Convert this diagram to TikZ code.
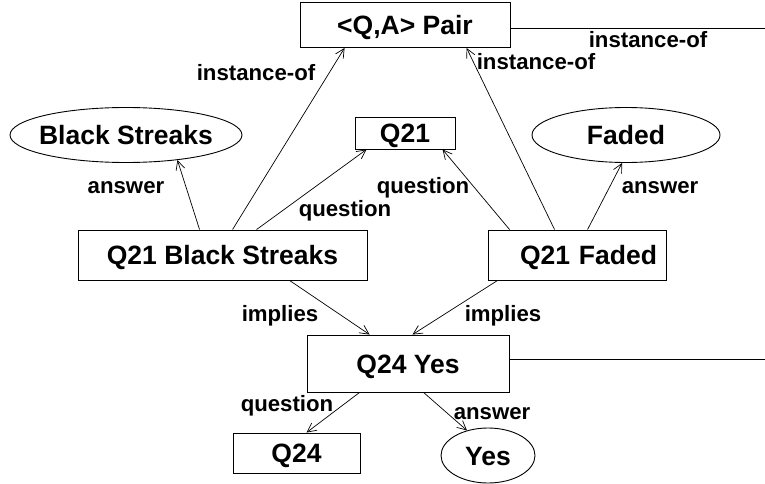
\documentclass[tikz,border=0pt]{standalone}
\usepackage{fontspec}
\setmainfont{Liberation Sans}
\usetikzlibrary{arrows.meta,shapes.geometric}
\begin{document}
\begin{tikzpicture}[x=1pt,y=-1pt,
  nodefont/.style={font=\fontsize{26.5}{29}\selectfont\bfseries,
    text height=19pt,text depth=0pt},
  boxnode/.style={draw,rectangle,line width=0.9pt,inner sep=0pt,nodefont},
  ellnode/.style={draw,ellipse,line width=0.9pt,inner sep=0pt,
    label={[nodefont,inner sep=0pt]center:#1}},
  lbl/.style={inner sep=0pt,font=\fontsize{22.2}{25}\selectfont\bfseries,
    text height=16pt,text depth=0pt},
  rel/.style={line width=0.7pt,-{Straight Barb[length=9pt,width=9pt,line width=0.7pt]}},
  plain/.style={line width=0.7pt}]
\useasboundingbox (0,0) rectangle (765,484);

% concept nodes
\node[boxnode,minimum width=210,minimum height=45] (pair) at (405,25) {<Q,A> Pair};
\node[ellnode=Black Streaks,minimum width=232,minimum height=55] (bsEll) at (126,135) {};
\node[boxnode,minimum width=100,minimum height=32] (q21) at (405,133) {Q21};
\node[ellnode=Faded,minimum width=188,minimum height=55] (fadedEll) at (626,135) {};
\node[boxnode,minimum width=289,minimum height=50] (q21bs) at (222.5,255) {Q21 Black Streaks};
\node[boxnode,minimum width=178,minimum height=50,text width=160,align=right] (q21f) at (577,255) {Q21 Faded};
\node[boxnode,minimum width=202,minimum height=57] (q24yes) at (408,363.5) {Q24 Yes};
\node[boxnode,minimum width=127,minimum height=40] (q24) at (296.5,453) {Q24};
\node[ellnode=Yes,minimum width=94,minimum height=55] (yesEll) at (488,455.5) {};

% free ends of the lines leaving to the right
\coordinate (pairOut) at (765,28);
\coordinate (q24yesOut) at (765,359);

% relations
\draw[rel] ([xshift=155]q21bs.north west) -- ([xshift=45]pair.south west);
\draw[rel] ([xshift=122]q21bs.north west) -- (bsEll.-26);
\draw[rel] ([xshift=179]q21bs.north west) -- ([xshift=12]q21.south west);
\draw[rel] ([xshift=22]q21f.north west) -- ([xshift=88]q21.south west);
\draw[rel] ([xshift=67]q21f.north west) -- ([xshift=167]pair.south west);
\draw[rel] ([xshift=100]q21f.north west) -- (fadedEll.-98);
\draw[rel] ([xshift=212]q21bs.south west) -- ([xshift=63]q24yes.north west);
\draw[rel] ([xshift=10]q21f.south west) -- ([xshift=106]q24yes.north west);
\draw[rel] ([xshift=53]q24yes.south west) -- ([xshift=74]q24.north west);
\draw[rel] ([xshift=117]q24yes.south west) -- (yesEll.130);
\draw[plain] ([yshift=-3]pair.east) -- (pairOut);
\draw[plain] ([yshift=4.5]q24yes.east) -- (q24yesOut);

% relation labels
\node[lbl] (l1) at (256,73) {instance-of};
\node[lbl] (l2) at (536,62) {instance-of};
\node[lbl] (l3) at (648,40) {instance-of};
\node[lbl] (l4) at (126,185) {answer};
\node[lbl] (l5) at (345,208) {question};
\node[lbl] (l6) at (423,185) {question};
\node[lbl] (l7) at (660,185) {answer};
\node[lbl] (l8) at (280,313) {implies};
\node[lbl] (l9) at (503,313) {implies};
\node[lbl] (l10) at (287,403) {question};
\node[lbl] (l11) at (492,411) {answer};
\end{tikzpicture}
\end{document}
